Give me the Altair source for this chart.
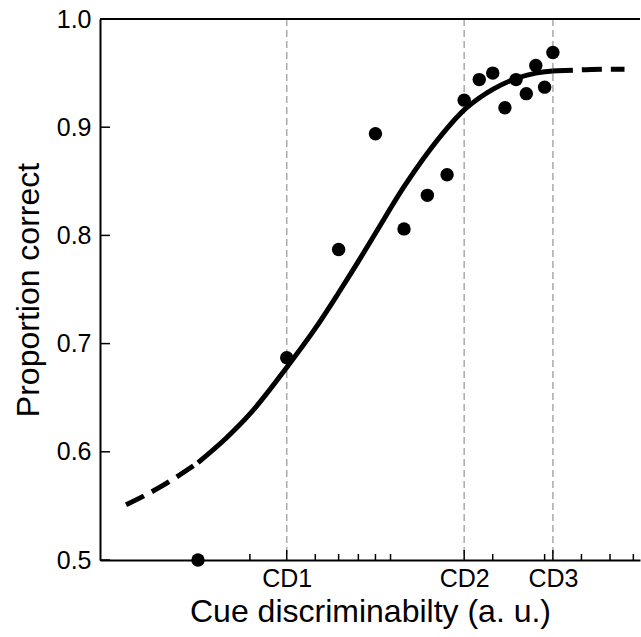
import altair as alt
import pandas as pd

# ---- data ----
cue_x = [2, 4, 6, 8, 10, 12, 14, 16, 18, 20, 22, 24, 26, 28, 30, 32]
prop_correct = [0.500, 0.687, 0.787, 0.894, 0.806, 0.837, 0.856, 0.925,
                0.944, 0.950, 0.918, 0.944, 0.931, 0.957, 0.937, 0.969]

# fitted psychometric curve
fit_left_x = [1.14, 1.5, 2.0]
fit_left_y = [0.551, 0.568, 0.590]
fit_mid_x = [2, 2.5, 3, 4, 5, 6, 7, 8, 10, 12, 14, 16, 18, 20, 24, 28, 32]
fit_mid_y = [0.590, 0.613, 0.635, 0.678, 0.714, 0.747, 0.776, 0.802, 0.845,
             0.876, 0.899, 0.916, 0.927, 0.935, 0.945, 0.950, 0.952]
fit_right_x = [32, 40, 48, 56]
fit_right_y = [0.952, 0.953, 0.9535, 0.9535]

cd_values = [4, 16, 32]
cd_labels = ["CD1", "CD2", "CD3"]
minor_x_ticks = [2, 3, 5, 6, 7, 8, 9, 20, 30, 40, 50, 60]
y_ticks = [0.5, 0.6, 0.7, 0.8, 0.9, 1.0]

W, H = 540, 541
FONT = "Liberation Sans"

pts = pd.DataFrame({"x": cue_x, "y": prop_correct})
fit_mid = pd.DataFrame({"x": fit_mid_x, "y": fit_mid_y})
fit_dash = pd.concat([
    pd.DataFrame({"x": fit_left_x, "y": fit_left_y, "seg": "left"}),
    pd.DataFrame({"x": fit_right_x, "y": fit_right_y, "seg": "right"}),
])
cd_df = pd.DataFrame({"x": cd_values, "label": cd_labels})
minor_df = pd.DataFrame({"x": minor_x_ticks})
yt_df = pd.DataFrame({"y": y_ticks})

xs = alt.Scale(type="log", domain=[0.93, 63.2], nice=False)
ys = alt.Scale(domain=[0.5, 1.0], nice=False, zero=False)

label_expr = " : ".join(
    [f"datum.value == {v} ? '{l}'" for v, l in zip(cd_values, cd_labels)]
) + " : ''"

x_axis = alt.Axis(
    values=cd_values, labelExpr=label_expr, ticks=False, grid=False,
    domainColor="black", domainWidth=2,
    labelFont=FONT, labelFontSize=25, labelColor="black", labelPadding=6,
    labelFlush=False, labelOverlap=False,
    title="Cue discriminabilty (a. u.)", titleFont=FONT, titleFontSize=32,
    titleFontWeight="normal", titleColor="black", titlePadding=5,
)
y_axis = alt.Axis(
    values=y_ticks, format=".1f", ticks=False, grid=False,
    domainColor="black", domainWidth=2,
    labelFont=FONT, labelFontSize=25, labelColor="black", labelPadding=9,
    title="Proportion correct", titleFont=FONT, titleFontSize=32,
    titleFontWeight="normal", titleColor="black", titlePadding=11,
)

X = lambda: alt.X("x:Q", scale=xs, axis=x_axis)
Y = lambda: alt.Y("y:Q", scale=ys, axis=y_axis)

grid = alt.Chart(cd_df).mark_rule(
    color="#aaaaaa", strokeWidth=1.5, strokeDash=[7, 4]
).encode(x=X())

minor_ticks = alt.Chart(minor_df).mark_rule(color="black", strokeWidth=1.5).encode(
    x=X(), y=alt.value(H), y2=alt.value(H - 6)
)
major_ticks = alt.Chart(cd_df).mark_rule(color="black", strokeWidth=1.5).encode(
    x=X(), y=alt.value(H), y2=alt.value(H - 10)
)
y_tick_marks = alt.Chart(yt_df).mark_rule(color="black", strokeWidth=1.5).encode(
    y=Y(), x=alt.value(0), x2=alt.value(10)
)
top_spine = alt.Chart(pd.DataFrame({"y": [1.0]})).mark_rule(
    color="black", strokeWidth=2
).encode(y=Y(), x=alt.value(0), x2=alt.value(W))

solid = alt.Chart(fit_mid).mark_line(
    color="black", strokeWidth=5, interpolate="monotone", strokeCap="butt"
).encode(x=X(), y=Y())

dashed = alt.Chart(fit_dash).mark_line(
    color="black", strokeWidth=5, interpolate="monotone",
    strokeDash=[20, 9], strokeCap="butt"
).encode(x=X(), y=Y(), detail="seg:N")

points = alt.Chart(pts).mark_circle(
    color="black", opacity=1, size=180
).encode(x=X(), y=Y())

chart = alt.layer(
    grid, minor_ticks, major_ticks, y_tick_marks, top_spine, solid, dashed, points
).properties(
    width=W, height=H,
    padding={"left": 100, "top": 19, "right": 1, "bottom": 77},
    autosize=alt.AutoSizeParams(type="none"),
    background="white",
).configure_view(stroke=None)

chart.save("out.html", embed_options={"renderer": "svg", "actions": False})
